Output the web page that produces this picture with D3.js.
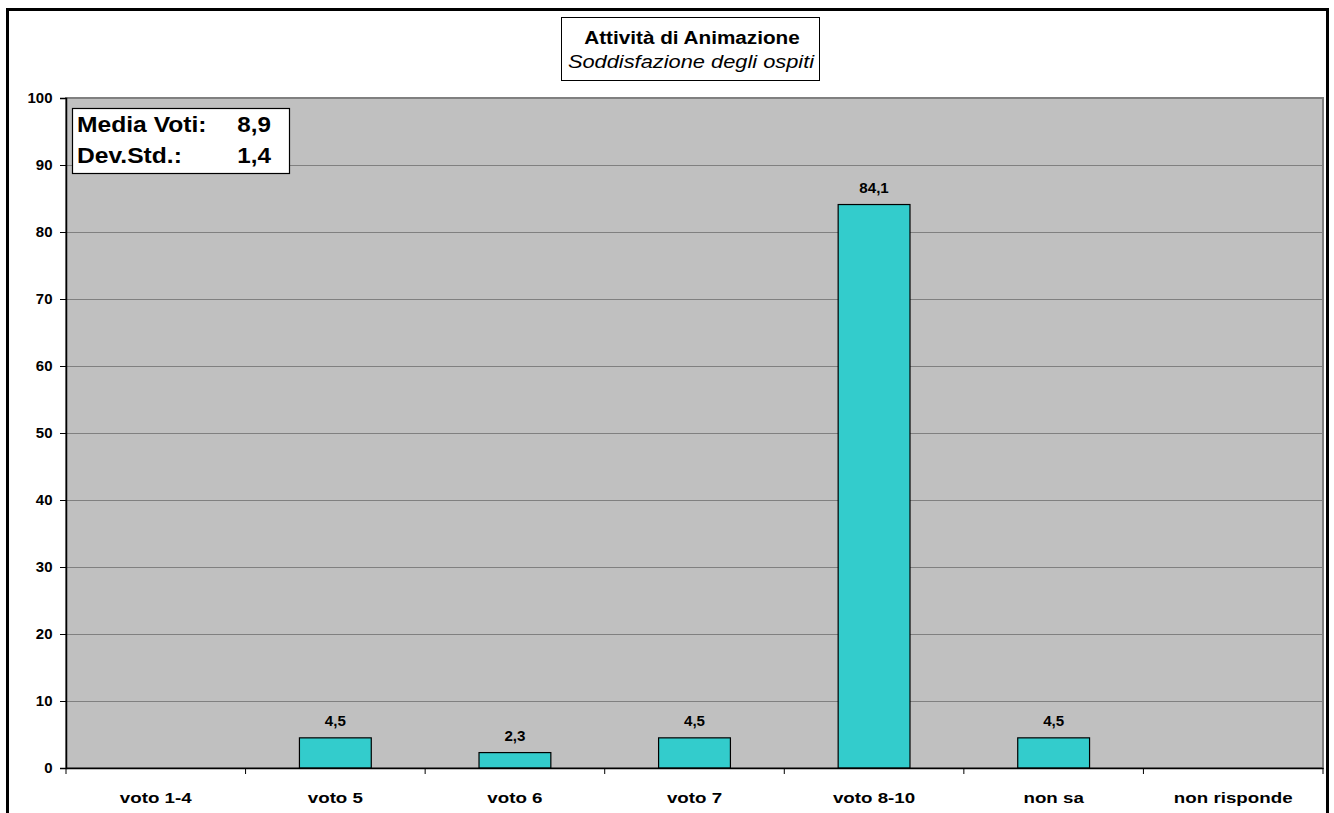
<!DOCTYPE html>
<html><head><meta charset="utf-8">
<script src="https://cdn.jsdelivr.net/npm/d3@7"></script>
<style>body{margin:0;background:#fff}text{font-family:Arial,"Liberation Sans",sans-serif;fill:#000}</style>
</head><body><svg id="c" width="1334" height="813"></svg>
<script>
const categories = ["voto 1-4","voto 5","voto 6","voto 7","voto 8-10","non sa","non risponde"];
const values = [null,4.5,2.3,4.5,84.1,4.5,null];
const yTicks = [0,10,20,30,40,50,60,70,80,90,100];
const title = "Attività di Animazione";
const subtitle = "Soddisfazione degli ospiti";
const statLabels = ["Media Voti:","Dev.Std.:"];
const statValues = ["8,9","1,4"];

const svg = d3.select("#c");
const L=66,R=1323,T=98,B=768;
svg.append("rect").attr("x",7.5).attr("y",9.5).attr("width",1320).attr("height",820)
  .attr("fill","#fff").attr("stroke","#000").attr("stroke-width",3);

const x = d3.scaleBand().domain(categories).range([L,R]);
const y = d3.scaleLinear().domain([0,100]).range([B,T]);

function txt(g,x0,y0,s,size,sx,opts={}){
  return g.append("text").attr("transform",`translate(${x0},${y0}) scale(${sx},1)`)
    .attr("text-anchor",opts.anchor||"start").attr("font-size",size)
    .attr("font-weight",opts.weight||"bold").attr("font-style",opts.style||"normal").text(s);
}

svg.append("rect").attr("x",L).attr("y",T).attr("width",R-L).attr("height",B-T)
  .attr("fill","#c0c0c0").attr("stroke","#808080").attr("stroke-width",2);

svg.append("g").selectAll("line").data(yTicks.filter(d=>d>0&&d<100)).join("line")
  .attr("x1",L).attr("x2",R).attr("y1",d=>Math.round(y(d))+0.5).attr("y2",d=>Math.round(y(d))+0.5)
  .attr("stroke","#808080").attr("stroke-width",1);

const bw = x.bandwidth()*0.4;
const bars = categories.map((c,i)=>({c,v:values[i]})).filter(d=>d.v!=null);
svg.append("g").selectAll("rect").data(bars).join("rect")
  .attr("x",d=>x(d.c)+x.bandwidth()/2-bw/2).attr("width",bw)
  .attr("y",d=>y(d.v)).attr("height",d=>y(0)-y(d.v))
  .attr("fill","#33cccc").attr("stroke","#000").attr("stroke-width",1.2);
const lg = svg.append("g");
bars.forEach(d=>txt(lg,x(d.c)+x.bandwidth()/2,y(d.v)-12,String(d.v).replace(".",","),14,1.08,{anchor:"middle"}));

// y axis
const ya = d3.axisLeft(y).tickValues(yTicks).tickSize(6);
const gy = svg.append("g").attr("transform",`translate(${L},0)`).call(ya);
gy.select(".domain").attr("stroke","#000").attr("stroke-width",1.5);
gy.selectAll(".tick line").attr("stroke","#000");
gy.selectAll(".tick text").attr("x",0).attr("transform","translate(-13.5,0) scale(1.07,1)")
  .attr("font-size",14).attr("font-weight","bold").attr("fill","#000")
  .attr("font-family","Arial,'Liberation Sans',sans-serif");

// x axis
const xa = d3.axisBottom(x).tickSize(0).tickFormat(()=>"");
const gx = svg.append("g").attr("transform",`translate(0,${B})`).call(xa);
gx.select(".domain").attr("stroke","#000").attr("stroke-width",1.5);
const xl = svg.append("g");
categories.forEach(c=>txt(xl,x(c)+x.bandwidth()/2,803,c,15,1.25,{anchor:"middle"}));
svg.append("g").selectAll("line").data(categories.map(c=>x(c)).concat([R])).join("line")
  .attr("x1",d=>d).attr("x2",d=>d).attr("y1",B).attr("y2",B+6).attr("stroke","#000").attr("stroke-width",1);

// title box
svg.append("rect").attr("x",561.5).attr("y",17.5).attr("width",258).attr("height",63)
  .attr("fill","#fff").attr("stroke","#000").attr("stroke-width",1);
txt(svg,692,43.5,title,18.5,1.12,{anchor:"middle"});
txt(svg,691,67.5,subtitle,18.5,1.18,{anchor:"middle",weight:"normal",style:"italic"});

// stats box
svg.append("rect").attr("x",72.5).attr("y",108.5).attr("width",217).attr("height",65)
  .attr("fill","#fff").attr("stroke","#000").attr("stroke-width",1.2);
statLabels.forEach((s,i)=>{
  txt(svg,77,131.5+i*31.5,s,22,1.12);
  txt(svg,271,131.5+i*31.5,statValues[i],22,1.1,{anchor:"end"});
});
</script></body></html>
